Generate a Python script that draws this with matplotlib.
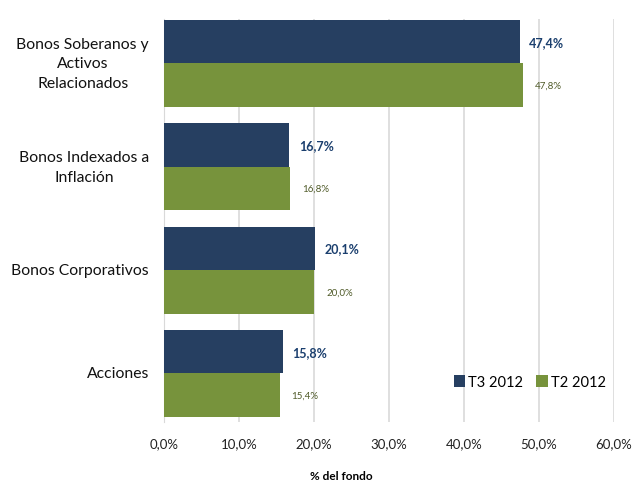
import numpy as np
import matplotlib
matplotlib.use("Agg")
import matplotlib.pyplot as plt
import matplotlib.transforms as mtransforms

plt.rcParams['font.family'] = ['Lato', 'DejaVu Sans']

categorias = ["Bonos Soberanos y\nActivos\nRelacionados",
              "Bonos Indexados a\nInflación",
              "Bonos Corporativos",
              "Acciones"]
t3_2012 = [47.4, 16.7, 20.1, 15.8]
t2_2012 = [47.8, 16.8, 20.0, 15.4]
xticks = [0, 10, 20, 30, 40, 50, 60]

azul = "#263F61"
verde = "#77933C"

fig = plt.figure(figsize=(6.37, 4.85), dpi=100)
ax = fig.add_axes([0.2575, 0.1278, 0.7065, 0.831])

y = np.arange(len(categorias))
h = 0.42
ax.barh(y - h / 2, t3_2012, height=h, color=azul, label="T3 2012", zorder=3)
ax.barh(y + h / 2, t2_2012, height=h, color=verde, label="T2 2012", zorder=3)

for yi, v in zip(y, t3_2012):
    ax.text(v + 1.3, yi - h / 2, f"{v:.1f}%".replace(".", ","), va="center",
            ha="left", fontsize=9, fontweight="bold", color="#1B3F6E")
for yi, v in zip(y, t2_2012):
    ax.text(v + 1.6, yi + h / 2, f"{v:.1f}%".replace(".", ","), va="center",
            ha="left", fontsize=7, color="#4F5A28")

ax.set_xlim(0, 60)
ax.set_ylim(3.47, -0.43)
ax.set_xticks(xticks)
ax.set_xticklabels([f"{t:.1f}%".replace(".", ",") for t in xticks], fontsize=9.5,
                   color="#222222")
ax.set_yticks(y)
ax.set_yticklabels([])

# etiquetas de categoria: bloque alineado a la derecha, lineas centradas
trans = mtransforms.blended_transform_factory(fig.transFigure, ax.transData)
for yi, c in zip(y, categorias):
    ax.text(149 / 637, yi, c, transform=trans, ha="right", va="center",
            multialignment="center", fontsize=11.3, color="#111111",
            linespacing=1.5)

ax.tick_params(axis="x", length=0, pad=11)
ax.tick_params(axis="y", length=0)
ax.grid(axis="x", color="#D9D9D9", linewidth=1.2, zorder=0)
for s in ["top", "right", "bottom"]:
    ax.spines[s].set_visible(False)
ax.spines["left"].set_color("#D9D9D9")

ax.legend(loc="center", bbox_to_anchor=(0.813, 0.099), ncol=2, frameon=False,
          fontsize=10.5, handlelength=0.8, handleheight=0.8, handletextpad=0.2,
          columnspacing=0.9)

fig.text(341 / 637, 0.018, "% del fondo", ha="center", va="center",
         fontsize=8.5, fontweight="bold")

fig.savefig("out.png", dpi=100)
